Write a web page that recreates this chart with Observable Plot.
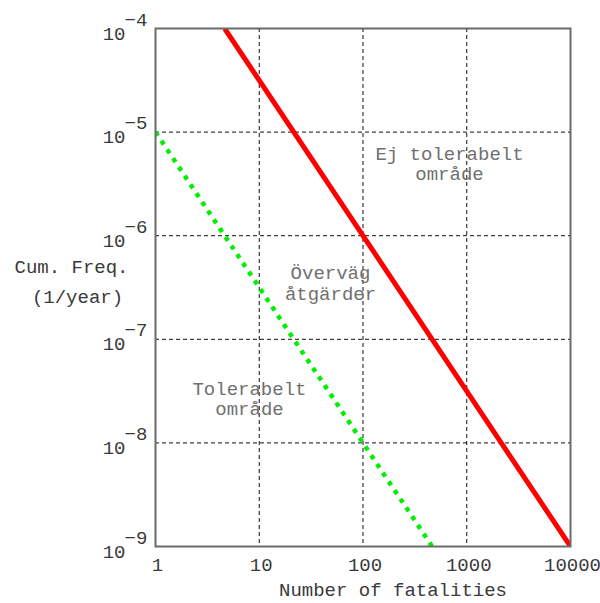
<!DOCTYPE html>
<html>
<head>
<meta charset="utf-8">
<script src="https://cdn.jsdelivr.net/npm/d3@7"></script>
<script src="https://cdn.jsdelivr.net/npm/@observablehq/plot@0.6"></script>
<style>
  html, body { margin: 0; padding: 0; background: #fff; }
  #chart svg { display: block; }
</style>
</head>
<body>
<div id="chart"></div>
<script>
// ---- data ----
const xTicks = [1, 10, 100, 1000, 10000];
const xGrid = [10, 100, 1000];
const yExponents = [-4, -5, -6, -7, -8, -9];
const yGrid = [1e-5, 1e-6, 1e-7, 1e-8];

const redX = [4.64, 10000];
const redY = [1e-4, 1e-9];
const greenX = [1, 464];
const greenY = [1e-5, 1e-9];

const regionLabels = ["Ej tolerabelt\nområde", "Överväg\nåtgärder", "Tolerabelt\nområde"];
const regionX = [682, 48.6, 8.05];
const regionY = [5.0e-6, 3.5e-7, 2.7e-8];

const xTitle = "Number of fatalities";
const yTitle = ["Cum. Freq.", "(1/year)"];

// ---- build ----
const font = "'Courier New', 'Liberation Mono', monospace";
const redLine = redX.map((x, i) => ({x, y: redY[i]}));
const greenLine = greenX.map((x, i) => ({x, y: greenY[i]}));
const regions = regionLabels.map((t, i) => ({t, x: regionX[i], y: regionY[i]}));

const chart = Plot.plot({
  width: 600,
  height: 603,
  marginLeft: 155,
  marginRight: 30,
  marginTop: 28,
  marginBottom: 57,
  style: {fontFamily: font, fontSize: "19px", background: "#fff"},
  x: {type: "log", domain: [1, 10000], axis: null},
  y: {type: "log", domain: [1e-9, 1e-4], axis: null},
  marks: [
    Plot.ruleX(xGrid, {stroke: "#111", strokeWidth: 1, strokeDasharray: "4,3"}),
    Plot.ruleY(yGrid, {stroke: "#111", strokeWidth: 1, strokeDasharray: "4,3"}),
    Plot.line(greenLine, {x: "x", y: "y", stroke: "#00ee00", strokeWidth: 4.5,
      strokeDasharray: "4.5,6", strokeLinecap: "butt", clip: true}),
    Plot.line(redLine, {x: "x", y: "y", stroke: "#ff0000", strokeWidth: 5,
      strokeLinecap: "butt", clip: true}),
    Plot.frame({stroke: "#6a6a6a", strokeWidth: 2}),
    Plot.text(regions, {x: "x", y: "y", text: "t", fill: "#707070",
      textAnchor: "middle", lineHeight: 1.08, fontSize: 19}),
    // x tick labels
    Plot.text(xTicks, {x: d => d, frameAnchor: "bottom", dx: 2, dy: 24, text: d => String(d),
      fill: "#3a3a3a", fontSize: 19}),
    // y tick labels: base and exponent
    Plot.text(yExponents, {y: d => Math.pow(10, d), frameAnchor: "left", dx: -30, dy: 5,
      text: () => "10", textAnchor: "end", fill: "#3a3a3a", fontSize: 19}),
    Plot.text(yExponents, {y: d => Math.pow(10, d), frameAnchor: "left", dx: -31, dy: -9,
      text: d => "\u2212" + Math.abs(d), textAnchor: "start", fill: "#3a3a3a", fontSize: 19}),
    // axis titles
    Plot.text([xTitle], {frameAnchor: "bottom", dx: 30, dy: 49, text: d => d,
      fill: "#3a3a3a", fontSize: 19}),
    Plot.text([yTitle[0]], {frameAnchor: "left", dx: -84, dy: -21, text: d => d,
      fill: "#3a3a3a", fontSize: 19, textAnchor: "middle"}),
    Plot.text([yTitle[1]], {frameAnchor: "left", dx: -78, dy: 9, text: d => d,
      fill: "#3a3a3a", fontSize: 19, textAnchor: "middle"})
  ]
});
document.getElementById("chart").appendChild(chart);
</script>
</body>
</html>
